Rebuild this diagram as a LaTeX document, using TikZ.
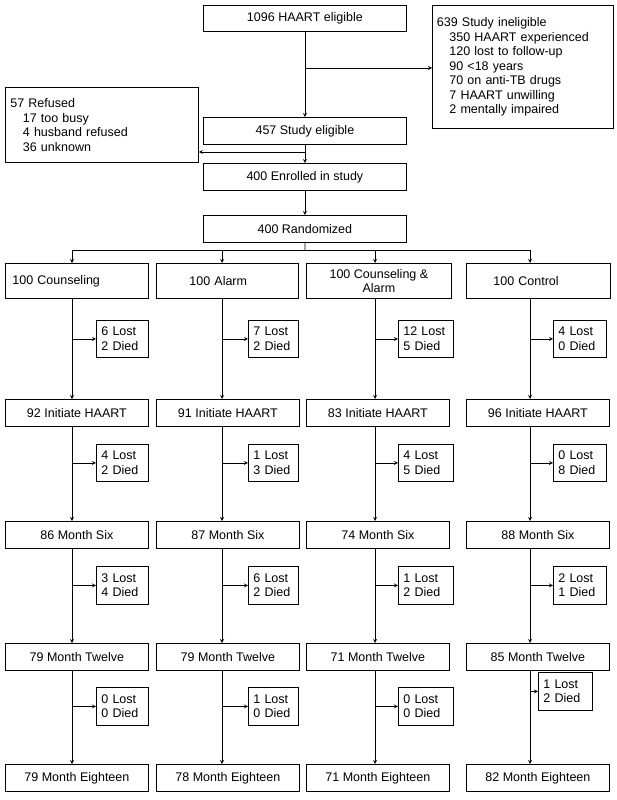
\documentclass[tikz,border=0pt]{standalone}
\usepackage{fontspec}
\setmainfont{Liberation Sans}
\begin{document}
\begin{tikzpicture}[x=1pt,y=-1pt,
  box/.style={draw,thick,inner sep=0pt,font=\fontsize{12.5}{14.5}\selectfont},
  arr/.style={->,>=stealth,thick}]
\useasboundingbox (0,0) rectangle (617,800);
\newcommand{\bx}[6]{\node[box,minimum width=#4-#2,minimum height=#5-#3,anchor=north west,text width=#4-#2-14,align=left] (#1) at (#2,#3) {#6};}
\newcommand{\cbx}[6]{\node[box,minimum width=#4-#2,minimum height=#5-#3,anchor=north west,align=center] (#1) at (#2,#3) {#6};}
\cbx{elig}{203}{5}{406}{31}{1096 HAART eligible}
\node[box,anchor=north west,minimum width=181,minimum height=123,text width=172,align=left] (inel) at (432,5) {639 Study ineligible\\
\quad350 HAART experienced\\ \quad120 lost to follow-up\\ \quad90 <18 years\\ \quad70 on anti-TB drugs\\ \quad7 HAART unwilling\\ \quad2 mentally impaired};
\cbx{seli}{203}{117}{406}{144}{457 Study eligible}
\node[box,anchor=north west,minimum width=193,minimum height=75,text width=183,align=left] (ref) at (5,87) {57 Refused\\ \quad17 too busy\\ \quad4 husband refused\\ \quad36 unknown};
\cbx{enr}{203}{163}{406}{190}{400 Enrolled in study}
\cbx{rand}{203}{215}{406}{242}{400 Randomized}
\draw[arr] (elig) -- (seli);
\coordinate (j1) at (305,68);
\draw[arr] (j1) -- (j1 -| inel.west);
\draw[arr] (seli) -- (enr);
\coordinate (j2) at (305,152);
\draw[arr] (j2) -- (j2 -| ref.east);
\draw[arr] (enr) -- (rand);
\coordinate (r) at (305,250);
\draw[thick] (rand.south) -- (r);
% row1
\bx{a1}{5}{263}{148}{298}{100 Counseling}
\bx{b1}{156}{263}{298}{298}{\hspace{26pt}100 Alarm}
\cbx{c1}{306}{263}{451}{298}{100 Counseling \&\\Alarm}
\bx{d1}{466}{263}{610}{298}{\hspace{20pt}100 Control}
\coordinate (rl) at (72,250); \coordinate (rr) at (530,250);
\coordinate (rb) at (222,250); \coordinate (rc) at (375,250);
\draw[thick] (rl) -- (rr);
\draw[arr] (rl) -- (rl |- a1.north);
\draw[arr] (rb) -- (rb |- b1.north);
\draw[arr] (rc) -- (rc |- c1.north);
\draw[arr] (rr) -- (rr |- d1.north);
\newcommand{\sbx}[6]{\node[box,anchor=north west,minimum width=#4-#2,minimum height=#5-#3,text width=#4-#2-10,align=left] (#1) at (#2,#3) {#6};}
\newcommand{\mb}[4]{\cbx{#1}{#2}{#3}{#2+143}{#3+27}{#4}}
\sbx{sa1}{96}{320}{148}{357}{6 Lost\\2 Died}
\sbx{sb1}{248}{320}{298}{357}{7 Lost\\2 Died}
\sbx{sc1}{398}{320}{453}{357}{12 Lost\\5 Died}
\sbx{sd1}{553}{320}{606}{357}{4 Lost\\0 Died}
\mb{a2}{5}{399}{92 Initiate HAART}
\mb{b2}{156}{399}{91 Initiate HAART}
\mb{c2}{306}{399}{83 Initiate HAART}
\mb{d2}{466}{399}{96 Initiate HAART}
\sbx{sa2}{96}{444}{148}{481}{4 Lost\\2 Died}
\sbx{sb2}{248}{444}{298}{481}{1 Lost\\3 Died}
\sbx{sc2}{398}{444}{453}{481}{4 Lost\\5 Died}
\sbx{sd2}{553}{444}{606}{481}{0 Lost\\8 Died}
\mb{a3}{5}{521}{86 Month Six}
\mb{b3}{156}{521}{87 Month Six}
\mb{c3}{306}{521}{74 Month Six}
\mb{d3}{466}{521}{88 Month Six}
\sbx{sa3}{96}{566}{148}{604}{3 Lost\\4 Died}
\sbx{sb3}{248}{566}{298}{604}{6 Lost\\2 Died}
\sbx{sc3}{398}{566}{453}{604}{1 Lost\\2 Died}
\sbx{sd3}{553}{566}{606}{604}{2 Lost\\1 Died}
\mb{a4}{5}{643}{79 Month Twelve}
\mb{b4}{156}{643}{79 Month Twelve}
\mb{c4}{306}{643}{71 Month Twelve}
\mb{d4}{466}{643}{85 Month Twelve}
\sbx{sa4}{96}{687}{148}{725}{0 Lost\\0 Died}
\sbx{sb4}{248}{687}{298}{725}{1 Lost\\0 Died}
\sbx{sc4}{398}{687}{453}{725}{0 Lost\\0 Died}
\sbx{sd4}{538}{672}{592}{710}{1 Lost\\2 Died}
\mb{a5}{5}{764}{79 Month Eighteen}
\mb{b5}{156}{764}{78 Month Eighteen}
\mb{c5}{306}{764}{71 Month Eighteen}
\mb{d5}{466}{764}{82 Month Eighteen}
\foreach \c/\x in {a/72,b/222,c/375,d/530}{
  \coordinate (X) at (\x,0);
  \foreach \i/\j in {1/2,2/3,3/4,4/5}{
    \draw[arr] (X |- \c\i.south) -- (X |- \c\j.north);
    \draw[arr] (s\c\i.west -| X) -- (s\c\i.west);
  }
}
\end{tikzpicture}
\end{document}
